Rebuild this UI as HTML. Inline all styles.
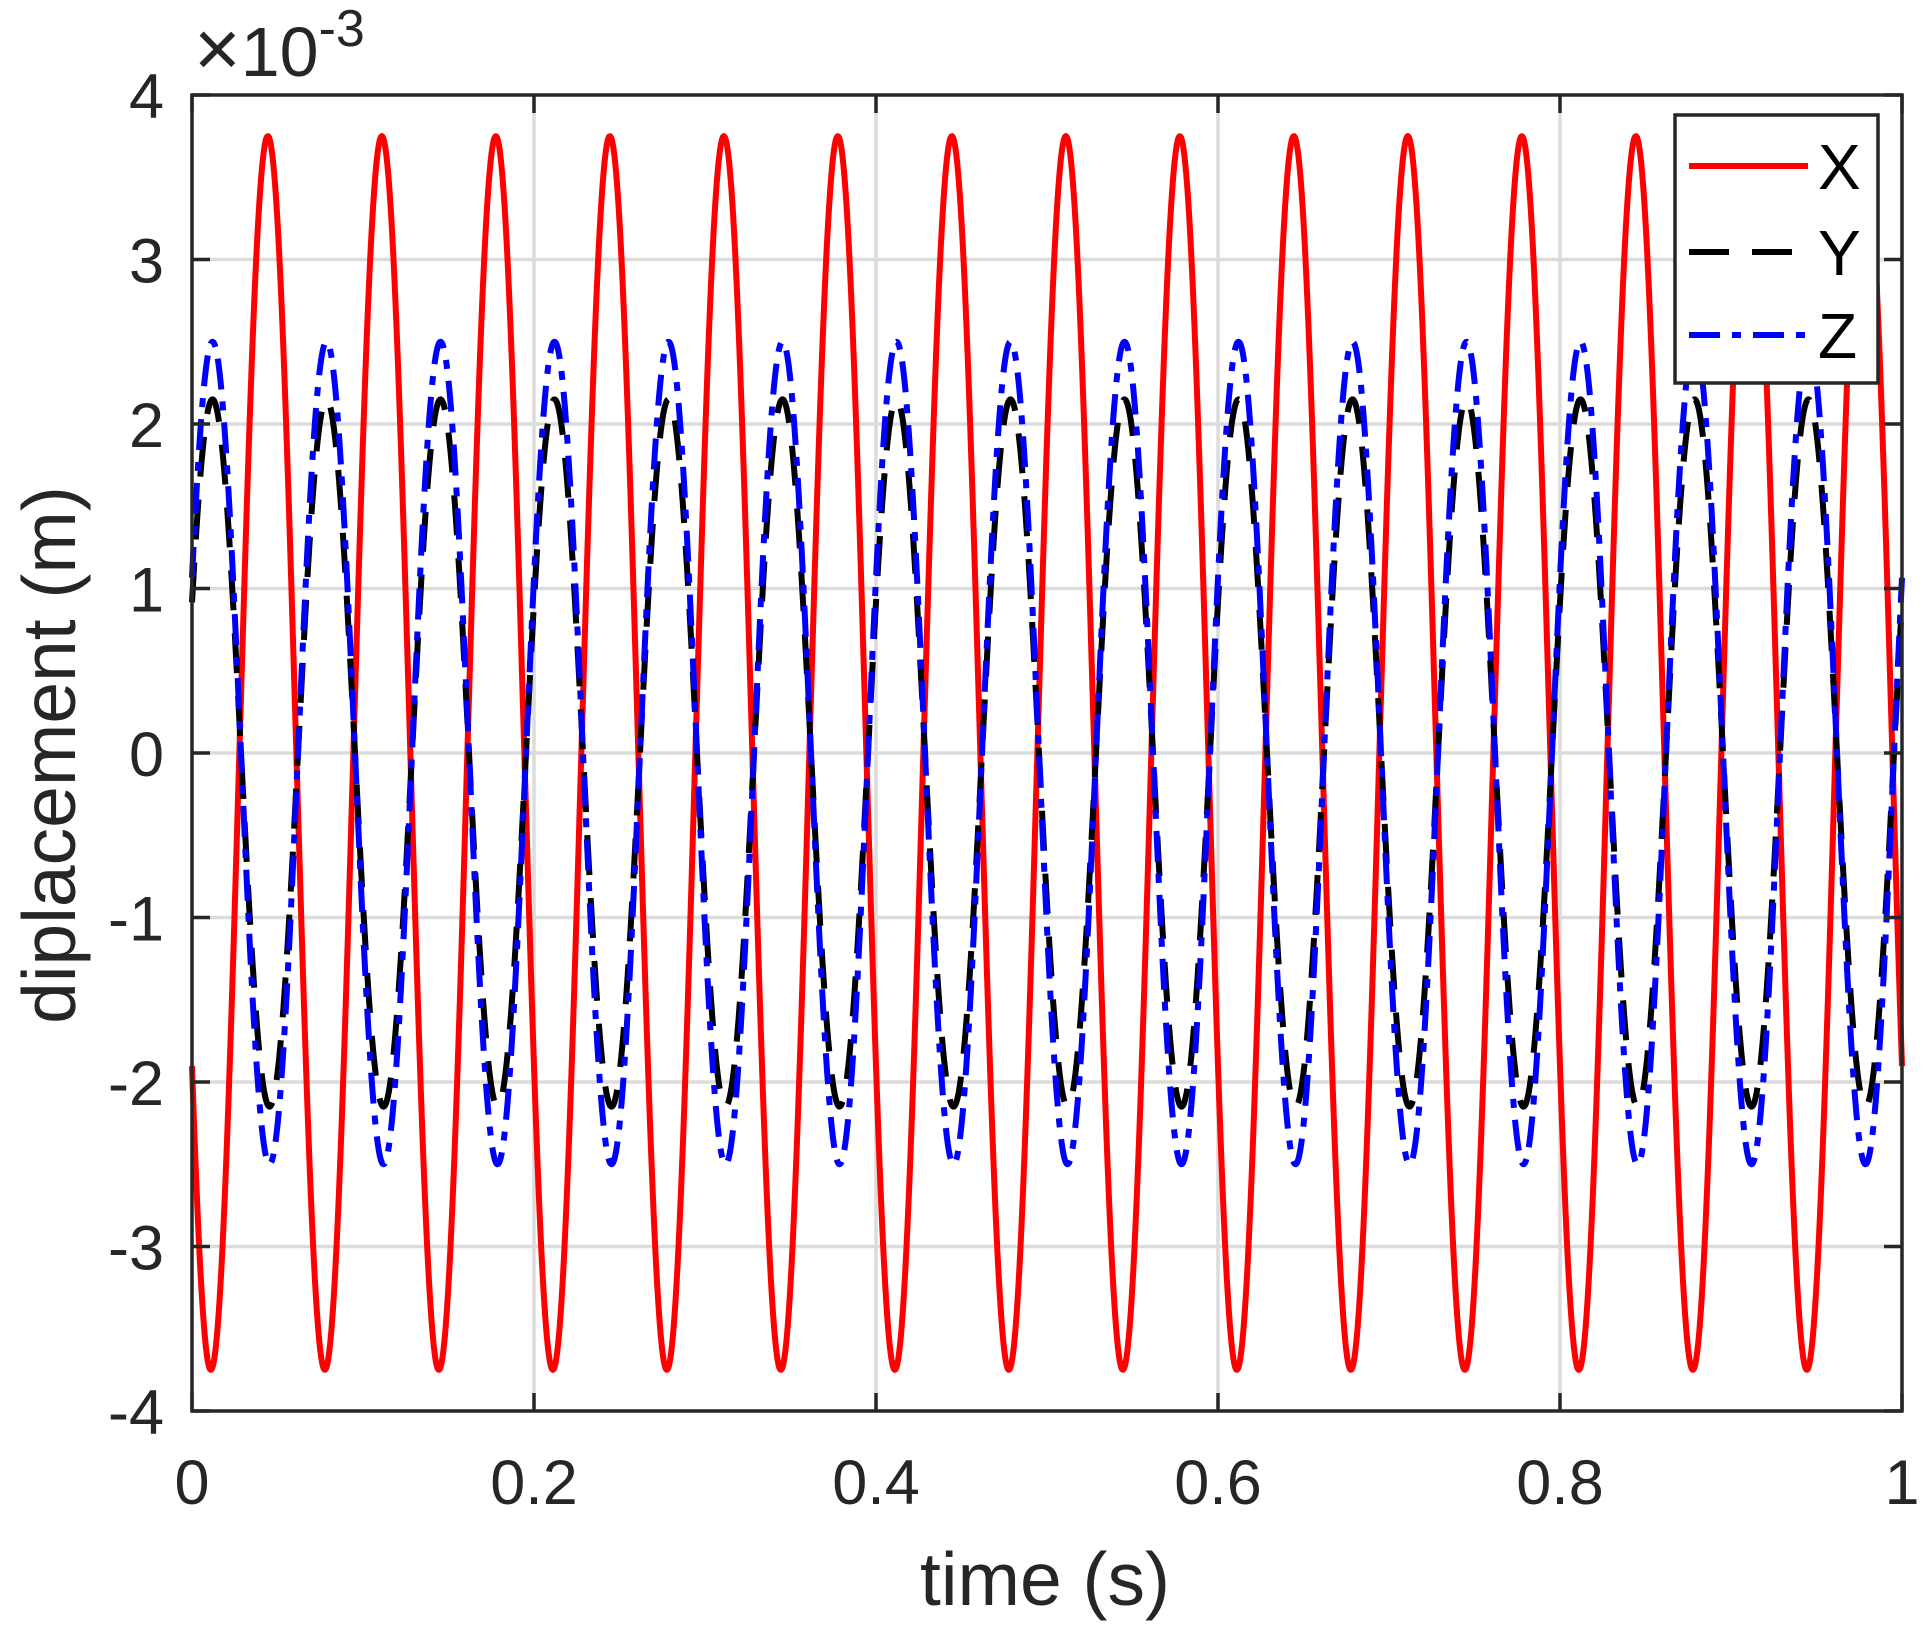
<!DOCTYPE html>
<html><head><meta charset="utf-8"><style>
html,body{margin:0;padding:0;background:#fff;}
svg{display:block;font-family:"Liberation Sans",Arial,sans-serif;}
</style></head><body>
<svg id="chart" width="1923" height="1635" viewBox="0 0 1923 1635" xmlns="http://www.w3.org/2000/svg">
<rect width="1923" height="1635" fill="#fff"/>
<g id="grid"></g>
<g id="plot"></g>
<g id="axes"></g>
<text x="194" y="76" font-size="70" fill="#262626"><tspan font-size="80">×</tspan>10<tspan dy="-30" font-size="52">-3</tspan></text>
<text x="1045" y="1605" font-size="75" text-anchor="middle" fill="#262626">time (s)</text>
<text x="0" y="0" font-size="75" text-anchor="middle" fill="#262626" transform="translate(75,755) rotate(-90)">diplacement (m)</text>
<g>
<rect x="1675" y="115" width="203" height="268" fill="#fff" stroke="#262626" stroke-width="3.5"/>
<g>
<line x1="1689" y1="166" x2="1808" y2="166" stroke="#ff0000" stroke-width="6"/>
<text x="1818" y="189" font-size="64" fill="#000">X</text></g>
<g>
<line x1="1689" y1="252" x2="1808" y2="252" stroke="#000" stroke-width="6" stroke-dasharray="40,23"/>
<text x="1818" y="275" font-size="64" fill="#000">Y</text></g>
<g>
<line x1="1689" y1="335" x2="1808" y2="335" stroke="#0000ff" stroke-width="6" stroke-dasharray="31,12,9,12"/>
<text x="1818" y="358" font-size="64" fill="#000">Z</text></g>
</g>
</svg>
<script>
// tick labels
const xTicks = [0, 0.2, 0.4, 0.6, 0.8, 1];
const xTickLabels = ["0", "0.2", "0.4", "0.6", "0.8", "1"];
const yTicks = [-4, -3, -2, -1, 0, 1, 2, 3, 4];
const yTickLabels = ["-4", "-3", "-2", "-1", "0", "1", "2", "3", "4"];
// series parameters (values in 1e-3 m)
const seriesNames = ["X", "Y", "Z"];
const seriesAmplitude = [3.75, 2.15, 2.5];
const seriesFrequencyHz = [15, 15, 15];
const seriesPhaseRad = [3.674, 0.44, 0.44];
const seriesColor = ["#ff0000", "#000000", "#0000ff"];
const seriesDash = ["", "40,23", "31,12,9,12"];

const L = 192, R = 1902, T = 95, B = 1411;
const xMin = 0, xMax = 1, yMin = -4, yMax = 4;
function sx(v){ return L + (v - xMin) / (xMax - xMin) * (R - L); }
function sy(v){ return B - (v - yMin) / (yMax - yMin) * (B - T); }
const NS = "http://www.w3.org/2000/svg";
function mk(tag, attrs, parent){ const e = document.createElementNS(NS, tag); for (const k in attrs) e.setAttribute(k, attrs[k]); parent.appendChild(e); return e; }

const grid = document.getElementById('grid');
const axes = document.getElementById('axes');
const plot = document.getElementById('plot');

xTicks.forEach((v, i) => {
  const x = sx(v);
  if (i > 0 && i < xTicks.length - 1) {
    const g = mk('line', {x1:x, y1:T, x2:x, y2:B, stroke:'#dcdcdc', 'stroke-width':3.5}, grid);
    
    
  }
  const t1 = mk('line', {x1:x, y1:B, x2:x, y2:B-18, stroke:'#262626', 'stroke-width':3.5}, axes);
  
  
  const t2 = mk('line', {x1:x, y1:T, x2:x, y2:T+18, stroke:'#262626', 'stroke-width':3.5}, axes);
  
  
  const lb = mk('text', {x:x, y:1504, 'font-size':63, 'text-anchor':'middle', fill:'#262626'}, axes);
  lb.textContent = xTickLabels[i];
  
  
});
yTicks.forEach((v, i) => {
  const y = sy(v);
  if (i > 0 && i < yTicks.length - 1) {
    const g = mk('line', {x1:L, y1:y, x2:R, y2:y, stroke:'#dcdcdc', 'stroke-width':3.5}, grid);
    
    
  }
  const t1 = mk('line', {x1:L, y1:y, x2:L+18, y2:y, stroke:'#262626', 'stroke-width':3.5}, axes);
  
  
  const t2 = mk('line', {x1:R, y1:y, x2:R-18, y2:y, stroke:'#262626', 'stroke-width':3.5}, axes);
  
  
  const lb = mk('text', {x:164, y:y+23, 'font-size':63, 'text-anchor':'end', fill:'#262626'}, axes);
  lb.textContent = yTickLabels[i];
  
  
});
const box = mk('rect', {x:L, y:T, width:R-L, height:B-T, fill:'none', stroke:'#262626', 'stroke-width':3.5}, axes);



const N = 2000;
seriesNames.forEach((name, s) => {
  let d = '';
  for (let k = 0; k <= N; k++) {
    const t = xMin + (xMax - xMin) * k / N;
    const v = seriesAmplitude[s] * Math.sin(2 * Math.PI * seriesFrequencyHz[s] * t + seriesPhaseRad[s]);
    d += (k ? 'L' : 'M') + sx(t).toFixed(2) + ' ' + sy(v).toFixed(2);
  }
  const p = mk('path', {d:d, fill:'none', stroke:seriesColor[s], 'stroke-width':6, 'stroke-linejoin':'round'}, plot);
  if (seriesDash[s]) p.setAttribute('stroke-dasharray', seriesDash[s]);
  
  
});
</script>
</body></html>
